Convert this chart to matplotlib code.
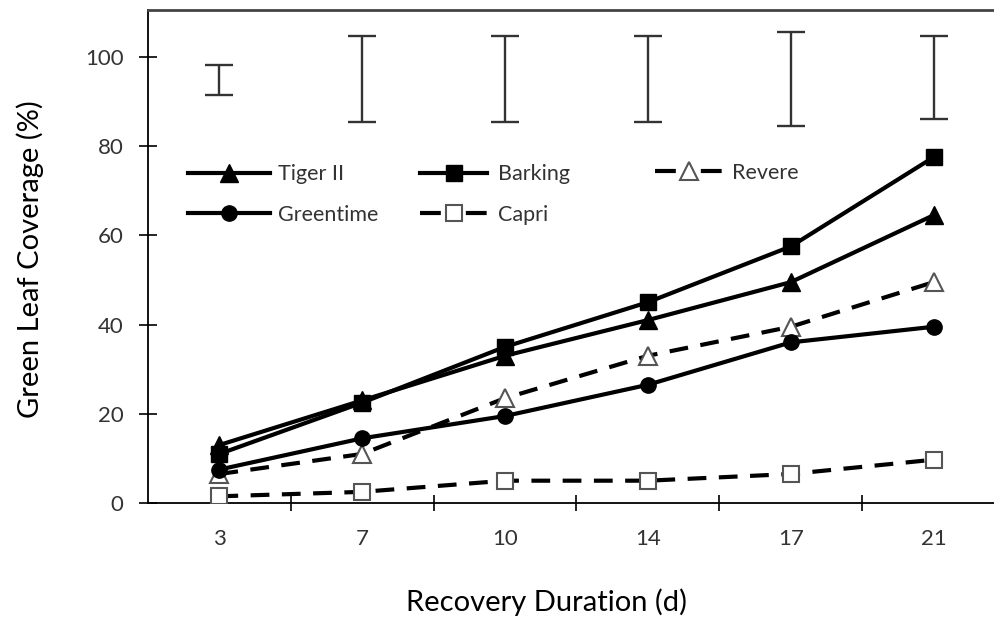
import matplotlib
matplotlib.use("Agg")
import matplotlib.pyplot as plt
from matplotlib.lines import Line2D

days = ["3", "7", "10", "14", "17", "21"]
tiger = [13, 23, 33, 41, 49.5, 64.5]
barking = [11, 22.5, 35, 45, 57.5, 77.5]
revere = [6.5, 11, 23.5, 33, 39.5, 49.5]
greentime = [7.5, 14.5, 19.5, 26.5, 36, 39.5]
capri = [1.5, 2.5, 5, 5, 6.5, 9.7]
lsd_low = [91.5, 85.4, 85.4, 85.4, 84.5, 86.0]
lsd_high = [98.2, 104.7, 104.7, 104.7, 105.6, 104.7]

plt.rcParams['font.family'] = ['Lato', 'DejaVu Sans']
txt_color = '#333333'

W, H = 995, 622
fig = plt.figure(figsize=(W / 100, H / 100), dpi=100)
ax = fig.add_axes([148 / W, 119 / H, 857 / W, 493 / H])

x = list(range(len(days)))
lw = 3.0
ms = 12
dash = (4.5, 3.0)

h_tiger, = ax.plot(x, tiger, color='black', lw=lw, marker='^', ms=ms + 1, mfc='black', mec='black', label='Tiger II', zorder=5)
h_green, = ax.plot(x, greentime, color='black', lw=lw, marker='o', ms=ms - 1, mfc='black', mec='black', label='Greentime', zorder=5)
h_bark, = ax.plot(x, barking, color='black', lw=lw, marker='s', ms=ms - 1, mfc='black', mec='black', label='Barking', zorder=5)
ax.plot(x, capri, color='black', lw=lw, ls=(0, dash), marker='s', ms=ms - 1, mfc='white', mec='#555555', mew=1.5, zorder=4)
ax.plot(x, revere, color='black', lw=lw, ls=(0, dash), marker='^', ms=ms + 1, mfc='white', mec='#555555', mew=1.5, zorder=4)

# legend proxies for dashed series (symmetric dash around the marker)
h_capri = Line2D([], [], color='black', lw=lw, ls=(0, (5, 6)), marker='s', ms=ms - 1, mfc='white', mec='#555555', mew=1.5, label='Capri')
h_rev = Line2D([], [], color='black', lw=lw, ls=(0, (5, 6)), marker='^', ms=ms + 1, mfc='white', mec='#555555', mew=1.5, label='Revere')

centers = [(l + h) / 2 for l, h in zip(lsd_low, lsd_high)]
halves = [(h - l) / 2 for l, h in zip(lsd_low, lsd_high)]
ax.errorbar(x, centers, yerr=halves, fmt='none', ecolor='#333333', elinewidth=1.7, capsize=10, capthick=1.7)

ax.set_xlim(-0.5, 5.5)
ax.set_ylim(0, 110.5)

ax.set_xticks([i + 0.5 for i in range(5)])
ax.set_xticklabels([])
ax.set_xticks(x, minor=True)
ax.set_xticklabels(days, minor=True)
ax.tick_params(axis='x', which='major', direction='inout', length=12, width=1.2, color='black')
ax.tick_params(axis='x', which='minor', length=0, pad=19, labelsize=16, labelcolor=txt_color)

ax.set_yticks([0, 20, 40, 60, 80, 100])
ax.tick_params(axis='y', direction='inout', length=13, width=1.2, pad=11, labelsize=16, labelcolor=txt_color)

ax.spines['right'].set_visible(False)
ax.spines['top'].set_color('#444444')
ax.spines['top'].set_linewidth(2)
ax.spines['left'].set_linewidth(1.3)
ax.spines['bottom'].set_linewidth(1.3)

fig.text(30 / W, 1 - 259 / H, 'Green Leaf Coverage (%)', rotation=90, ha='center', va='center', fontsize=21, color='black')
fig.text(547 / W, 1 - 602 / H, 'Recovery Duration (d)', ha='center', va='center', fontsize=21, color='black')

leg_kw = dict(frameon=False, fontsize=15.5, labelspacing=0.95, borderpad=0, borderaxespad=0,
              loc='center left', bbox_transform=fig.transFigure)
cols = [([h_tiger, h_green], 188, (172 + 217) / 2, 3.8, 0.4),
        ([h_bark, h_capri], 420, (172 + 217) / 2, 3.12, 0.5),
        ([h_rev], 655, 173, 3.12, 0.45)]
legs = []
for handles, px, py, hl, hp in cols:
    lg = ax.legend(handles=handles, bbox_to_anchor=(px / W, 1 - py / H),
                   handlelength=hl, handletextpad=hp, **leg_kw)
    for t in lg.get_texts():
        t.set_color(txt_color)
    legs.append(lg)
for lg in legs[:-1]:
    ax.add_artist(lg)

fig.savefig('out.png', dpi=100)
